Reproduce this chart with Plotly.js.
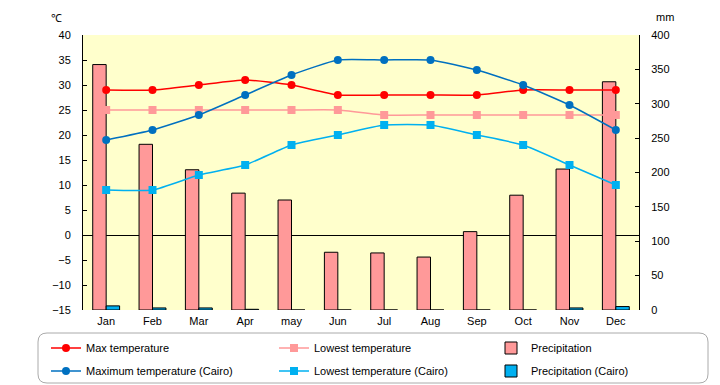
<!DOCTYPE html>
<html><head><meta charset="utf-8">
<script src="https://cdn.plot.ly/plotly-3.0.1.min.js"></script>
<style>body{margin:0;background:#fff}#c{width:720px;height:385px}</style>
</head><body><div id="c"></div>
<script>
const months = ["Jan","Feb","Mar","Apr","may","Jun","Jul","Aug","Sep","Oct","Nov","Dec"];
const maxTemp = [29,29,30,31,30,28,28,28,28,29,29,29];
const lowTemp = [25,25,25,25,25,25,24,24,24,24,24,24];
const precip = [357,241,204,170,160,84,83,77,114,167,205,332];
const cairoMax = [19,21,24,28,32,35,35,35,33,30,26,21];
const cairoLow = [9,9,12,14,18,20,22,22,20,18,14,10];
const cairoPrecip = [6,3,3,1,0,0,0,0,0,0,3,5];

const F = "Liberation Sans, Arial, sans-serif";
const lineTrace = (name, y, color, symbol, leg) => ({
  type:"scatter", mode:"lines+markers", name, x:months, y, yaxis:"y2", legend:leg,
  line:{color, width:1.5, shape:"spline", smoothing:0.5},
  marker:{color, size:8, symbol}
});
const data = [
  lineTrace("Max temperature", maxTemp, "#FF0000", "circle", "legend"),
  lineTrace("Lowest temperature", lowTemp, "#FF9999", "square", "legend2"),
  {type:"bar", name:"Precipitation", x:months, y:precip, yaxis:"y", legend:"legend3",
   marker:{color:"#FF9999", line:{color:"#000", width:1}}},
  lineTrace("Maximum temperature (Cairo)", cairoMax, "#0070C0", "circle", "legend4"),
  lineTrace("Lowest temperature (Cairo)", cairoLow, "#00B0F0", "square", "legend5"),
  {type:"bar", name:"Precipitation (Cairo)", x:months, y:cairoPrecip, yaxis:"y", legend:"legend6",
   marker:{color:"#00B0F0", line:{color:"#000", width:1}}}
];
const pw = 556, ph = 275;
const x0 = (38-83)/pw, x1 = (708-83)/pw, yb = (310-383)/ph, yt = (310-333)/ph;
const rx = 9/pw, ry = 9/ph;
const path = `M ${x0+rx},${yt} L ${x1-rx},${yt} Q ${x1},${yt} ${x1},${yt-ry} L ${x1},${yb+ry} Q ${x1},${yb} ${x1-rx},${yb} L ${x0+rx},${yb} Q ${x0},${yb} ${x0},${yb+ry} L ${x0},${yt-ry} Q ${x0},${yt} ${x0+rx},${yt} Z`;
const leg = (px, py) => ({orientation:"h", xanchor:"left", yanchor:"middle",
  x:(px-83)/pw, y:(310-py)/ph, font:{family:F, size:11},
  bgcolor:"rgba(0,0,0,0)", borderwidth:0});
const colX = [46, 274, 491], rowY = [348, 371];
const layout = {
  width:720, height:385,
  margin:{l:83, r:81, t:35, b:75, autoexpand:false},
  paper_bgcolor:"#fff", plot_bgcolor:"#FFFFCC",
  font:{family:F, size:11, color:"#000"},
  showlegend:true,
  barmode:"group", bargap:0.42, bargroupgap:0,
  xaxis:{type:"category", range:[-0.5, 11.5], showline:false, ticks:"", showgrid:false, zeroline:false,
         ticklabelstandoff:3, tickfont:{family:F, size:11}},
  yaxis:{side:"right", range:[0,400], dtick:50, showline:true, linecolor:"#000", linewidth:1,
         ticks:"inside", ticklen:4, tickcolor:"#000", showgrid:false, zeroline:false,
         ticklabelstandoff:9, tickfont:{family:F, size:11}},
  yaxis2:{overlaying:"y", side:"left", range:[-15,40], dtick:5, showline:true, linecolor:"#000", linewidth:1,
         ticks:"inside", ticklen:4, tickcolor:"#000", showgrid:false,
         zeroline:true, zerolinecolor:"#000", zerolinewidth:1,
         ticklabelstandoff:9, tickfont:{family:F, size:11}},
  legend:leg(colX[0], rowY[0]),
  legend2:leg(colX[1], rowY[0]),
  legend3:leg(colX[2], rowY[0]),
  legend4:leg(colX[0], rowY[1]),
  legend5:leg(colX[1], rowY[1]),
  legend6:leg(colX[2], rowY[1]),
  shapes:[{type:"path", xref:"paper", yref:"paper", path, line:{color:"#AAAAAA", width:1}, fillcolor:"rgba(0,0,0,0)", layer:"below"}],
  annotations:[
    {text:"℃", xref:"paper", yref:"paper", x:(56-83)/pw, y:(310-18)/ph, xanchor:"center", yanchor:"middle", showarrow:false, font:{family:F, size:11}},
    {text:"mm", xref:"paper", yref:"paper", x:(665-83)/pw, y:(310-17)/ph, xanchor:"center", yanchor:"middle", showarrow:false, font:{family:F, size:11}}
  ]
};
Plotly.newPlot("c", data, layout, {displayModeBar:false, staticPlot:true});
</script></body></html>
